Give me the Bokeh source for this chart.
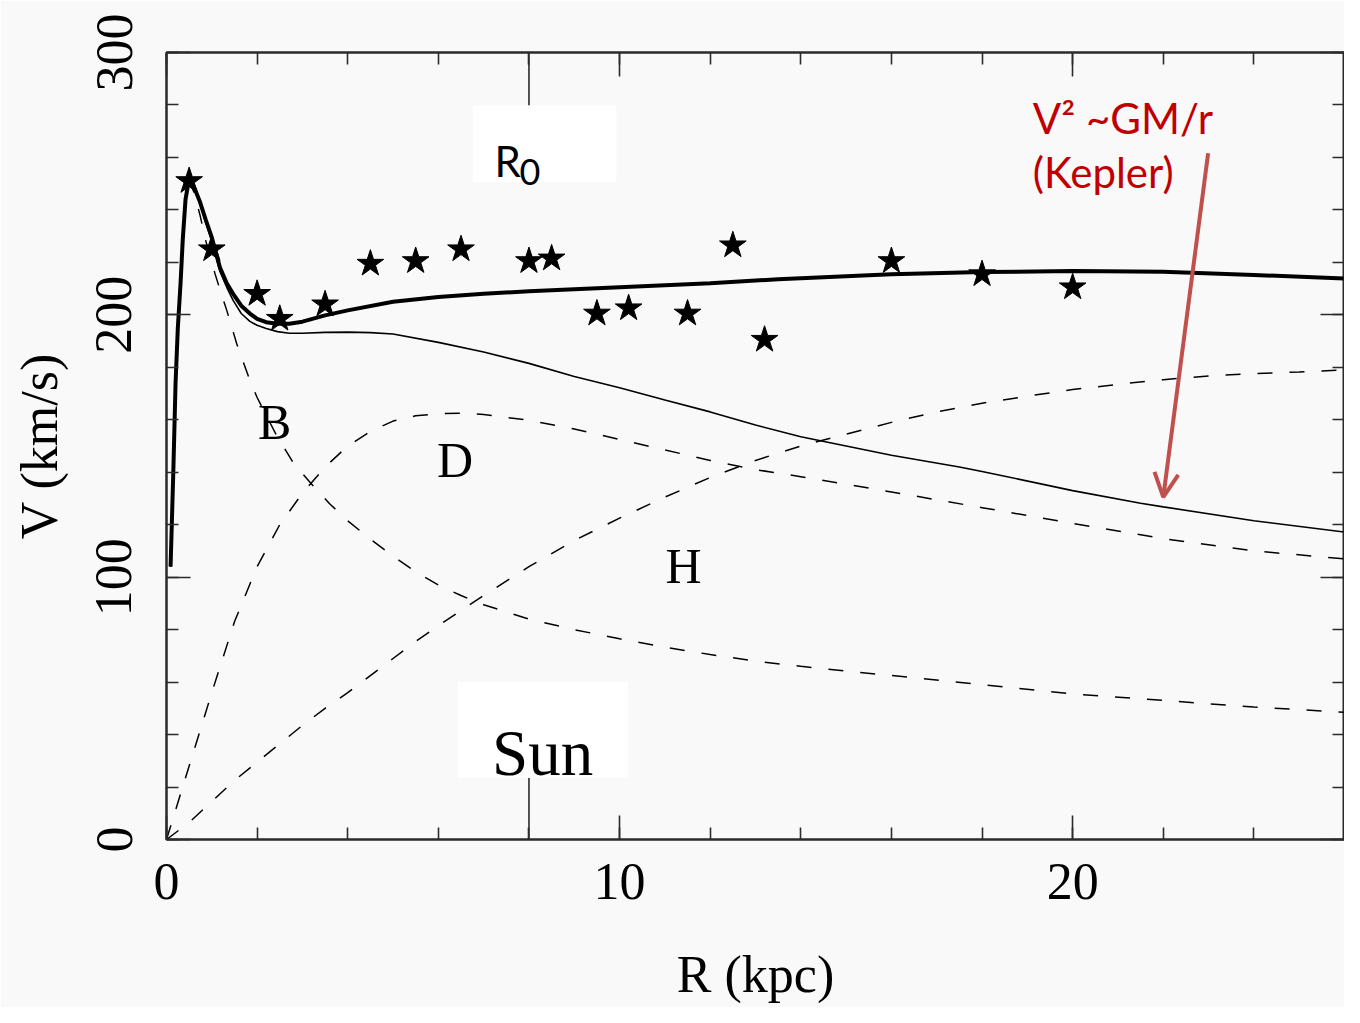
from bokeh.plotting import figure
from bokeh.models import (Range1d, LinearAxis, FixedTicker, Label, BoxAnnotation,
                          Arrow, OpenHead, CustomJSTickFormatter)
from bokeh.embed import file_html
from bokeh.resources import INLINE

# ---------------- data ----------------
x_major = [0, 10, 20]
x_minor = [0, 2, 4, 6, 8, 10, 12, 14, 16, 18, 20, 22, 24, 26]
y_major = [0, 100, 200, 300]
y_minor = [0, 20, 40, 60, 80, 100, 120, 140, 160, 180, 200, 220, 240, 260, 280, 300]

# total rotation curve (thick)
total_r = [0.09, 0.15, 0.2, 0.25, 0.31, 0.36, 0.42, 0.49, 0.6, 0.74, 0.87, 1.0, 1.18, 1.33,
           1.47, 1.65, 1.84, 2.0, 2.2, 2.45, 2.71, 3.0, 3.5, 4.0, 5.0, 6.0, 7.0, 8.0, 10.0,
           12.0, 13.5, 16.0, 18.0, 20.0, 22.0, 24.0, 26.0]
total_v = [104, 140, 174, 195, 212, 229, 244, 251, 249, 243, 236, 229.5, 218, 212,
           208, 203.5, 200.5, 198.5, 197.2, 196.6, 196.6, 197.4, 199.8, 201.7, 205, 206.8,
           208, 209, 210.5, 212, 213.6, 215.5, 216.3, 216.7, 216.4, 215.2, 213.8]

# bulge + disk (thin solid)
bd_r = [0.09, 0.15, 0.2, 0.25, 0.31, 0.36, 0.42, 0.49, 0.6, 0.74, 0.87, 1.0, 1.18, 1.33,
        1.47, 1.65, 1.84, 2.0, 2.2, 2.45, 2.71, 3.0, 3.5, 4.0, 4.5, 5.0, 6.0, 7.0, 8.0,
        9.0, 10.0, 11.0, 12.0, 13.0, 14.0, 16.0, 17.5, 18.0, 20.0, 21.5, 22.0, 24.0, 26.0]
bd_v = [104, 140, 174, 195, 212, 229, 244, 251, 249, 242.5, 235, 228, 216.5, 210.5,
        205.5, 200.5, 197.5, 196, 194.8, 193.6, 193, 193, 193.3, 193.4, 193.2, 192.7,
        189.5, 185.8, 181.5, 176.5, 172.2, 167.5, 163, 158, 153.5, 146.5, 142, 140.3,
        133, 128.2, 126.8, 121.5, 117.2]

# bulge (B)
bulge_r = [0.09, 0.15, 0.2, 0.25, 0.31, 0.36, 0.42, 0.49, 0.6, 0.74, 0.87, 1.0, 1.07, 1.2,
           1.33, 1.55, 1.84, 2.0, 2.4, 2.8, 3.2, 3.6, 4.0, 4.5, 5.0, 5.5, 6.0, 6.5, 7.0,
           8.0, 9.0, 10.0, 11.0, 12.0, 13.0, 14.0, 16.0, 18.0, 20.0, 22.0, 24.0, 26.0]
bulge_v = [104, 140, 174, 195, 212, 229, 244, 251, 247, 238, 228, 220, 215.7, 208.5,
           201.7, 189, 175, 168.5, 155, 143.5, 135.5, 128, 121.5, 114.5, 108, 102, 97, 93,
           89.5, 84, 80, 76.5, 73.3, 70.5, 68, 66, 62.5, 59, 55.5, 53, 50.5, 48.5]

# disk (D)
disk_r = [0, 0.5, 1.0, 1.5, 2.0, 2.5, 3.0, 3.5, 4.0, 4.5, 5.0, 5.5, 6.0, 6.5, 7.0, 8.0,
          9.0, 10.0, 11.0, 12.0, 13.0, 14.0, 16.0, 18.0, 20.0, 22.0, 24.0, 26.0]
disk_v = [0, 28, 56, 83, 104, 120, 132, 142, 150, 155.5, 159.5, 161.5, 162.3, 162.5, 162,
          159.8, 156.5, 152.5, 148.5, 144.5, 141, 138.3, 132.5, 126.5, 120.5, 114.7, 110, 107]

# halo (H)
halo_r = [0, 0.5, 1.0, 1.5, 2.0, 2.5, 3.0, 3.5, 4.0, 4.5, 5.0, 5.5, 6.0, 7.0, 8.0, 9.0,
          10.0, 11.0, 12.0, 13.0, 14.0, 15.0, 16.0, 17.0, 18.0, 19.0, 20.0, 21.0, 22.0,
          23.0, 24.0, 25.0, 26.0]
halo_v = [0, 6.5, 14.5, 22.5, 29.5, 36.5, 43.5, 50, 56, 62.5, 69, 75.5, 81.5, 93, 104, 114,
          122.5, 130.5, 138, 144.5, 150, 154.5, 159, 163, 166.3, 169, 171.5, 173.5, 175.3,
          176.7, 177.6, 178.2, 179]

# observed points (stars)
obs_r = [0.5, 1.0, 2.0, 2.5, 3.5, 4.5, 5.5, 6.5, 8.0, 8.5, 9.5, 10.2, 11.5, 12.5, 13.2,
         16.0, 18.0, 20.0]
obs_v = [251, 225, 208, 198.5, 204, 219.5, 220.5, 225, 220.5, 221.5, 200.5, 202.5, 200.5,
         226.5, 190.5, 220.5, 215.5, 210.5]

R_SUN = 8.0

# ---------------- figure ----------------
BG = "#f9f9f9"
AX = "#2b2b2b"
SERIF = "Liberation Serif"

p = figure(width=1344, height=1007, x_range=Range1d(0, 26), y_range=Range1d(0, 300),
           output_backend="svg", toolbar_location=None,
           min_border_left=166, min_border_top=52, min_border_right=0, min_border_bottom=168,
           background_fill_color=BG, border_fill_color=BG,
           outline_line_color=AX, outline_line_width=2)
p.grid.visible = False


def style_axis(ax, major, minor, show_labels):
    ax.ticker = FixedTicker(ticks=major, minor_ticks=minor)
    ax.major_tick_in = 24
    ax.major_tick_out = 0
    ax.minor_tick_in = 12
    ax.minor_tick_out = 0
    ax.axis_line_color = AX
    ax.axis_line_width = 2
    ax.major_tick_line_color = AX
    ax.major_tick_line_width = 1.6
    ax.minor_tick_line_color = AX
    ax.minor_tick_line_width = 1.6
    if show_labels:
        ax.major_label_text_font = SERIF
        ax.major_label_text_font_size = "52px"
        ax.major_label_text_color = "black"
        ax.axis_label_text_font = SERIF
        ax.axis_label_text_font_size = "52px"
        ax.axis_label_text_font_style = "normal"
        ax.axis_label_text_color = "black"
    else:
        ax.formatter = CustomJSTickFormatter(code="return ''")
        ax.major_label_text_font_size = "0px"
        ax.major_label_standoff = 0


xa = p.xaxis[0]
style_axis(xa, x_major, x_minor, True)
xa.axis_label = "R (kpc)"
xa.major_label_standoff = 24
xa.axis_label_standoff = 44

ya = p.yaxis[0]
style_axis(ya, y_major, y_minor, True)
ya.axis_label = "V (km/s)"
ya.major_label_orientation = "parallel"
ya.major_label_standoff = 35
ya.axis_label_standoff = 26

top = LinearAxis()
style_axis(top, x_major, x_minor, False)
p.add_layout(top, "above")
right = LinearAxis()
style_axis(right, y_major, y_minor, False)
p.add_layout(right, "right")

# curves
DASH = "15 17"
p.line(halo_r, halo_v, line_color="black", line_width=1.5, line_dash=DASH)
p.line(disk_r, disk_v, line_color="black", line_width=1.5, line_dash=DASH)
p.line(bulge_r, bulge_v, line_color="black", line_width=1.5, line_dash=DASH)
p.line(bd_r, bd_v, line_color="black", line_width=1.6)
p.line(total_r, total_v, line_color="black", line_width=4)
p.scatter(obs_r, obs_v, marker="star", size=28, fill_color="black", line_color="black")

# R0 / Sun markers
p.segment(x0=[R_SUN, R_SUN], y0=[300, 0], x1=[R_SUN, R_SUN], y1=[279.8, 23.5],
          line_color=AX, line_width=1.6)
p.add_layout(BoxAnnotation(left=6.76, right=9.93, bottom=250.6, top=279.8,
                           fill_color="white", fill_alpha=1, line_color=None))
p.add_layout(BoxAnnotation(left=6.43, right=10.19, bottom=23.5, top=60,
                           fill_color="white", fill_alpha=1, line_color=None))

p.add_layout(Label(x=7.24, y=258.8, text="R", text_font="Lato", text_font_size="42px",
                   text_color="black", text_baseline="alphabetic", text_align="left"))
p.add_layout(Label(x=7.79, y=254.6, text="0", text_font="Lato", text_font_size="36px",
                   text_color="black", text_baseline="alphabetic", text_align="left"))
p.add_layout(Label(x=8.30, y=32.8, text="Sun", text_font=SERIF, text_font_size="65px",
                   text_color="black", text_baseline="alphabetic", text_align="center"))

# component labels
for txt, lx, ly in [("B", 2.39, 159.0), ("D", 6.37, 144.5), ("H", 11.41, 104.4)]:
    p.add_layout(Label(x=lx, y=ly, text=txt, text_font=SERIF, text_font_size="50px",
                       text_color="black", text_baseline="alphabetic", text_align="center"))

# Kepler annotation
RED = "#c00000"
p.add_layout(Label(x=19.12, y=275.2, text="V\u00b2 ~GM/r", text_font="Lato",
                   text_font_size="42px", text_color=RED, text_baseline="alphabetic",
                   text_align="left"))
p.add_layout(Label(x=19.12, y=254.3, text="(Kepler)", text_font="Lato",
                   text_font_size="42px", text_color=RED, text_baseline="alphabetic",
                   text_align="left"))
ARROW = "#c0504d"
p.add_layout(Arrow(end=OpenHead(size=24, line_color=ARROW, line_width=4),
                   x_start=22.99, y_start=261.6, x_end=22.0, y_end=130.5,
                   line_color=ARROW, line_width=4))

open("out.html", "w").write(file_html(p, INLINE))
